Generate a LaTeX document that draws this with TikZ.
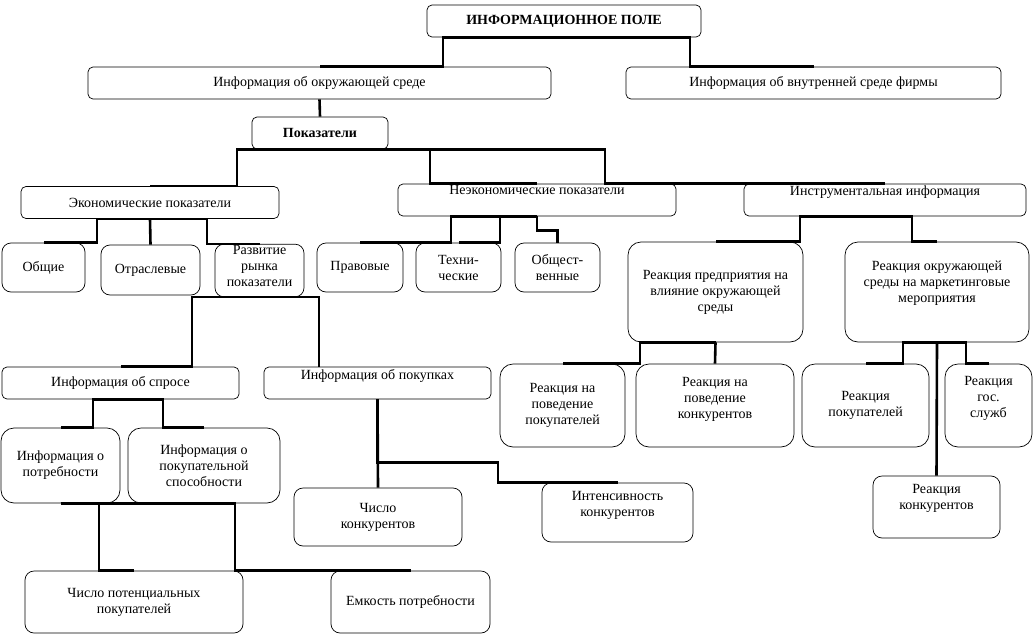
\documentclass[tikz,border=0pt]{standalone}
\usepackage{fontspec}
\setmainfont{Liberation Serif}

\begin{document}
\begin{tikzpicture}[x=1pt,y=-1pt,inner sep=1pt,
  box/.style={draw,line width=0.7pt,rounded corners=5pt,align=center,font=\fontsize{14}{16}\selectfont},
  mid/.style={rounded corners=9pt},
  tall/.style={rounded corners=13pt},
  raised/.style={text depth=#1},
  link/.style={line width=2.6pt}]
\useasboundingbox (0,0) rectangle (1033,637);
% top levels
\node (field) at (564,21) [box,minimum width=274pt,minimum height=32pt] {\textbf{ИНФОРМАЦИОННОЕ ПОЛЕ}};
\node (outer) at (319.5,83) [box,minimum width=463pt,minimum height=32pt] {Информация об окружающей среде};
\node (inner) at (813.5,83) [box,minimum width=375pt,minimum height=32pt] {Информация об внутренней среде фирмы};
\node (indic) at (320,133) [box,minimum width=136pt,minimum height=32pt] {\textbf{Показатели}};
\node (econ) at (150,202.5) [box,minimum width=258pt,minimum height=32pt] {Экономические показатели};
\node (noneco) at (537,200) [box,raised=19.5pt,minimum width=278pt,minimum height=32pt] {Неэкономические показатели};
\node (instr) at (885,200) [box,raised=19.5pt,minimum width=282pt,minimum height=32pt] {Инструментальная информация};
% indicators
\node (common) at (43.5,267.5) [box,mid,minimum width=83pt,minimum height=49pt] {Общие};
\node (branch) at (150.5,270) [box,mid,minimum width=99pt,minimum height=50pt] {Отраслевые};
\node (market) at (259.5,270.5) [box,mid,raised=9.5pt,minimum width=89pt,minimum height=51pt] {Развитие\\рынка\\показатели};
\node (legal) at (360,267.5) [box,mid,minimum width=86pt,minimum height=49pt] {Правовые};
\node (tech) at (458.5,267.5) [box,mid,minimum width=85pt,minimum height=49pt] {Техни-\\ческие};
\node (social) at (557.5,267.5) [box,mid,minimum width=85pt,minimum height=49pt] {Общест-\\венные};
% market
\node (demand) at (120.5,383) [box,minimum width=237pt,minimum height=32pt] {Информация об спросе};
\node (buys) at (377.5,383) [box,raised=17.5pt,minimum width=227pt,minimum height=32pt] {Информация об покупках};
\node (need) at (60.5,465.5) [box,tall,minimum width=119pt,minimum height=75pt] {Информация о\\потребности};
\node (power) at (204,465.5) [box,tall,minimum width=152pt,minimum height=75pt] {Информация о\\покупательной\\способности};
\node (buyers) at (134,602) [box,mid,minimum width=218pt,minimum height=62pt] {Число потенциальных\\покупателей};
\node (volume) at (410.5,602) [box,mid,minimum width=159pt,minimum height=62pt] {Емкость потребности};
\node (rivals) at (378,517) [box,mid,minimum width=168pt,minimum height=58pt] {Число\\конкурентов};
\node (intens) at (617.5,512.5) [box,mid,raised=17.5pt,minimum width=151pt,minimum height=59pt] {Интенсивность\\конкурентов};
% reactions
\node (firmreact) at (715.5,292) [box,tall,minimum width=175pt,minimum height=100pt] {Реакция предприятия на\\влияние окружающей\\среды};
\node (envreact) at (937,292) [box,tall,raised=21.5pt,minimum width=184pt,minimum height=100pt] {Реакция окружающей\\среды на маркетинговые\\мероприятия};
\node (onbuyers) at (562.5,405.5) [box,tall,minimum width=125pt,minimum height=83pt] {Реакция на\\поведение\\покупателей};
\node (onrivals) at (715,405.5) [box,tall,raised=15.5pt,minimum width=158pt,minimum height=83pt] {Реакция на\\поведение\\конкурентов};
\node (bybuyers) at (865.5,405.5) [box,tall,minimum width=127pt,minimum height=83pt] {Реакция\\покупателей};
\node (bystate) at (988.5,405.5) [box,tall,raised=17.5pt,minimum width=87pt,minimum height=83pt] {Реакция\\гос.\\служб};
\node (byrivals) at (936.5,507) [box,mid,raised=19.5pt,minimum width=127pt,minimum height=62pt] {Реакция\\конкурентов};
% connectors
\draw[link] (field.south) -| ([xshift=123.5pt]outer.north) -- (outer.north);
\draw[link] (field.south) -| ([xshift=-123.5pt]inner.north) -- (inner.north);
\draw[link] (outer.south) -- (indic.north);
\draw[link] (indic.south) -| ([xshift=87pt]econ.north) -- (econ.north);
\draw[link] (indic.south) -| ([xshift=-107pt]noneco.north) -- (noneco.north);
\draw[link] (indic.south) -| ([xshift=-280pt]instr.north) -- (instr.north);
\draw[link] (econ.south) -| ([xshift=53.5pt]common.north) -- (common.north);
\draw[link] (econ.south) -- (branch.north);
\draw[link] (econ.south) -| ([xshift=-52.5pt]market.north) -- (market.north);
\draw[link] (noneco.south) -| ([xshift=91pt]legal.north) -- (legal.north);
\draw[link] (noneco.south) -| ([xshift=41.5pt]tech.north) -- (tech.north);
\draw[link] (noneco.south) |- ([yshift=12pt]social.north) -- (social.north);
\draw[link] (market.south) -| ([xshift=71.5pt]demand.north) -- (demand.north);
\draw[link] (market.south) -| ([xshift=-58.5pt]buys.north);
\draw[link] (demand.south) -| ([xshift=32.5pt]need.north) -- (need.north);
\draw[link] (demand.south) -| ([xshift=-41pt]power.north) -- (power.north);
\draw[link] (need.south) -| ([xshift=-35pt]buyers.north) -- (buyers.north);
\draw[link] (need.south) -| ([xshift=-175.5pt]volume.north) -- (volume.north);
\draw[link] (buys.south) -- (rivals.north);
\draw[link] (buys.south) |- ([xshift=-119.5pt,yshift=20pt]intens.north) |- (intens.north);
\draw[link] (instr.south) -| ([xshift=84.5pt]firmreact.north) -- (firmreact.north);
\draw[link] (instr.south) -| ([xshift=-25pt]envreact.north) -- (envreact.north);
\draw[link] (firmreact.south) -| ([xshift=77.5pt]onbuyers.north) -- (onbuyers.north);
\draw[link] (firmreact.south) -- (onrivals.north);
\draw[link] (envreact.south) -| ([xshift=37.5pt]bybuyers.north) -- (bybuyers.north);
\draw[link] (envreact.south) -| ([xshift=-22.5pt]bystate.north) -- (bystate.north);
\draw[link] (envreact.south) -- (byrivals.north);
\end{tikzpicture}
\end{document}
